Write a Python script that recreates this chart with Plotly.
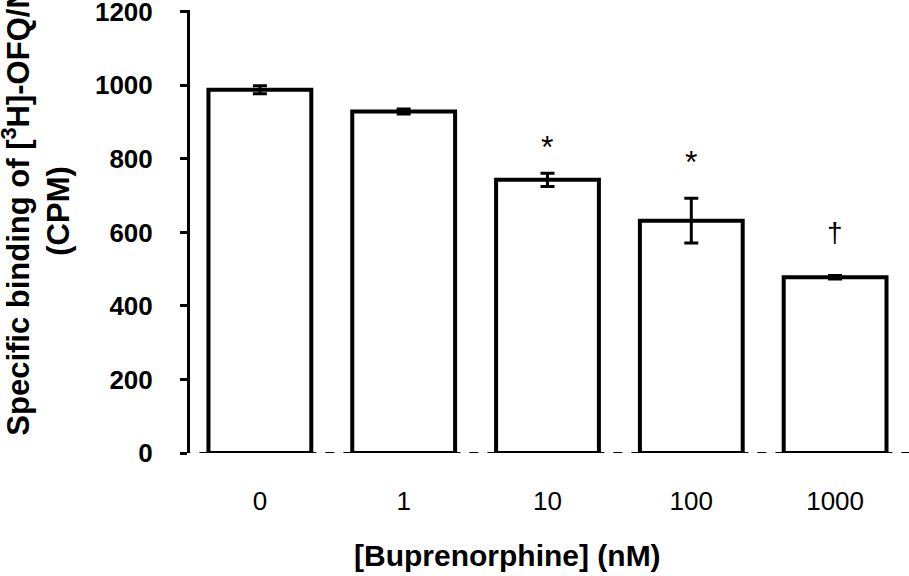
import plotly.graph_objects as go

categories = ["0", "1", "10", "100", "1000"]
values = [988, 929, 743, 632, 478]
errors = [11, 7, 18, 61, 5]
sig_labels = ["", "", "*", "*", "†"]
sig_label_y = [None, None, 833, 792, 599]
y_ticks = [0, 200, 400, 600, 800, 1000, 1200]

FONT = "Liberation Sans, Arial, sans-serif"

fig = go.Figure()
fig.add_trace(go.Bar(
    x=categories, y=values,
    marker=dict(color="white", line=dict(color="black", width=4)),
    error_y=dict(type="data", array=errors, visible=True,
                 color="black", thickness=3, width=7),
    showlegend=False,
))

for i, (lab, ly) in enumerate(zip(sig_labels, sig_label_y)):
    if lab:
        fig.add_annotation(x=i, y=ly, xref="x", yref="y", text=lab, showarrow=False,
                           xanchor="center", yanchor="middle",
                           font=dict(family=FONT, size=32 if lab == "*" else 28, color="black"))

# dashed baseline at zero
fig.add_shape(type="line", xref="paper", yref="y", x0=-0.012, x1=1.01, y0=0, y1=0,
              line=dict(color="black", width=2, dash="dash"))

# axis titles as annotations for precise placement
fig.add_annotation(xref="paper", yref="paper", x=-0.216, y=0.545,
                   text="Specific binding of [<sup>3</sup>H]-OFQ/N<br>(CPM)",
                   textangle=-90, showarrow=False, xanchor="center", yanchor="middle",
                   font=dict(family=FONT, size=31, color="black", weight="bold"))
fig.add_annotation(xref="paper", yref="paper", x=0.443, y=-0.231,
                   text="[Buprenorphine] (nM)", showarrow=False,
                   xanchor="center", yanchor="middle",
                   font=dict(family=FONT, size=30, color="black", weight="bold"))

fig.update_layout(
    width=909, height=576,
    margin=dict(l=190, r=2, t=10, b=123, autoexpand=False),
    paper_bgcolor="white", plot_bgcolor="white",
    bargap=0.285,
    font=dict(family=FONT, color="black"),
)
fig.update_xaxes(
    type="category", range=[-0.486, 4.5], automargin=False,
    showline=False, showgrid=False, zeroline=False, ticks="",
    tickfont=dict(family=FONT, size=26, color="black"),
    ticklabelstandoff=30,
)
fig.update_yaxes(
    range=[0, 1205], tickvals=y_ticks, automargin=False,
    showline=True, linecolor="black", linewidth=3,
    ticks="outside", ticklen=7, tickwidth=3, tickcolor="black",
    showgrid=False, zeroline=False,
    tickfont=dict(family=FONT, size=26, color="black", weight="bold"),
    ticklabelstandoff=22, ticklabeloverflow="allow",
)

fig.write_html("out.html", config={"displayModeBar": False},
               post_script="document.body.style.margin='0';document.body.style.overflow='hidden';")
